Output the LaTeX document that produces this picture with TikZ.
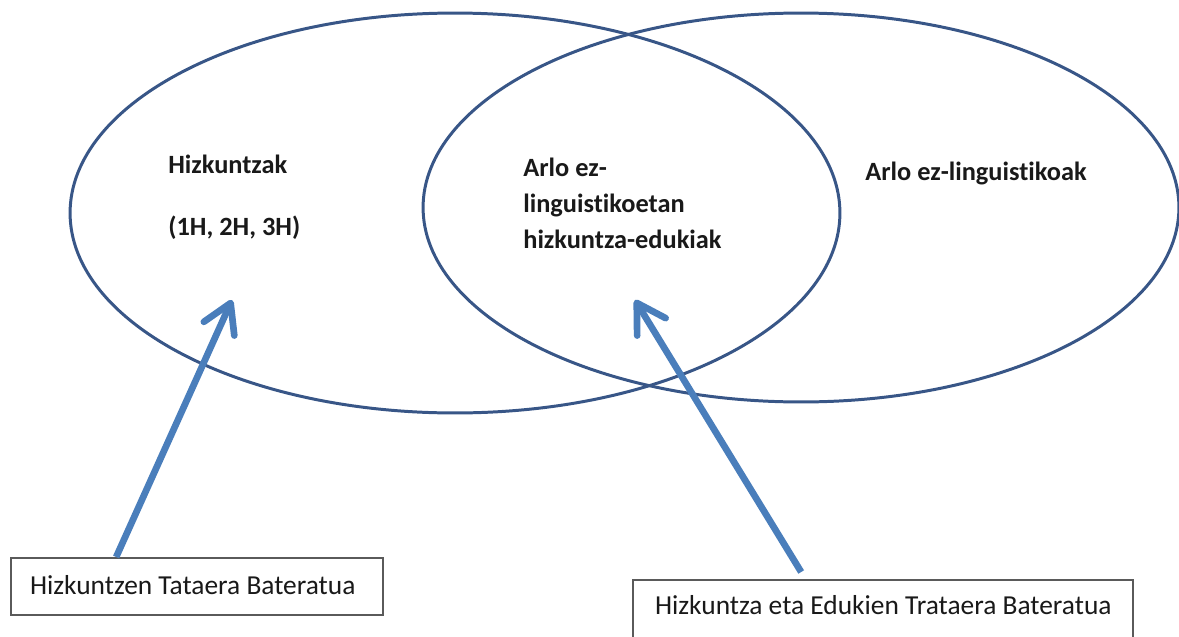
\documentclass[tikz,border=0pt]{standalone}
\usepackage{fontspec}
\setmainfont{Carlito}[Ligatures=NoCommon]
\usepackage{tikz}
\usetikzlibrary{calc}
\tikzset{>=latex}
\usetikzlibrary{arrows.meta}
\definecolor{vennblue}{RGB}{56,86,135}
\definecolor{arrowblue}{RGB}{74,126,187}
\definecolor{boxgray}{RGB}{90,90,90}
\tikzset{venn/.style={draw=vennblue,line width=1.7pt},
  bigarrow/.style={arrowblue,line width=3.8pt,-{Straight Barb[length=16pt,width=19pt,line cap=round,line join=round]}},
  vlabel/.style={font=\fontsize{15}{20.4}\bfseries\selectfont,text=black!90,anchor=base west,inner sep=0pt},
  boxtext/.style={draw=boxgray,line width=1pt,fill=white,font=\fontsize{15.6}{18}\selectfont,text=black!90,inner ysep=0pt,anchor=north}}

\begin{document}
\begin{tikzpicture}[x=0.02cm,y=-0.02cm]
\useasboundingbox (0,0) rectangle (1179,636);
\draw[venn] (455,213) ellipse [x radius=7.7cm, y radius=4cm];
\draw[venn] (801,207.5) ellipse [x radius=7.56cm, y radius=3.89cm];
\node[vlabel] (hizk) at (168,173.5) {Hizkuntzak};
\node[vlabel] (hizkh) at (168,235.5) {(1H, 2H, 3H)};
\node[vlabel,align=left] (arloez) at (523,248.5) {Arlo ez-\\linguistikoetan\\hizkuntza-edukiak};
\node[vlabel] (arlo) at (865,180.5) {Arlo ez-linguistikoak};
\node[boxtext,inner xsep=0.38cm,text height=0.73cm,text depth=0.41cm] (lbox) at (197,557) {\makebox[6.68cm][l]{Hizkuntzen Tataera Bateratua}};
\node[boxtext,inner xsep=0.44cm,text height=0.69cm,text depth=0.61cm] (rbox) at (883,579) {\makebox[9.12cm][l]{Hizkuntza eta Edukien Trataera Bateratua}};
\coordinate (ltip) at (232,300);
\coordinate (rtip) at (635,300);
\draw[bigarrow] ($(lbox.north west)+(106,0)$) -- (ltip);
\draw[bigarrow] ($(rbox.north west)+(169,-7)$) -- (rtip);
\end{tikzpicture}
\end{document}
